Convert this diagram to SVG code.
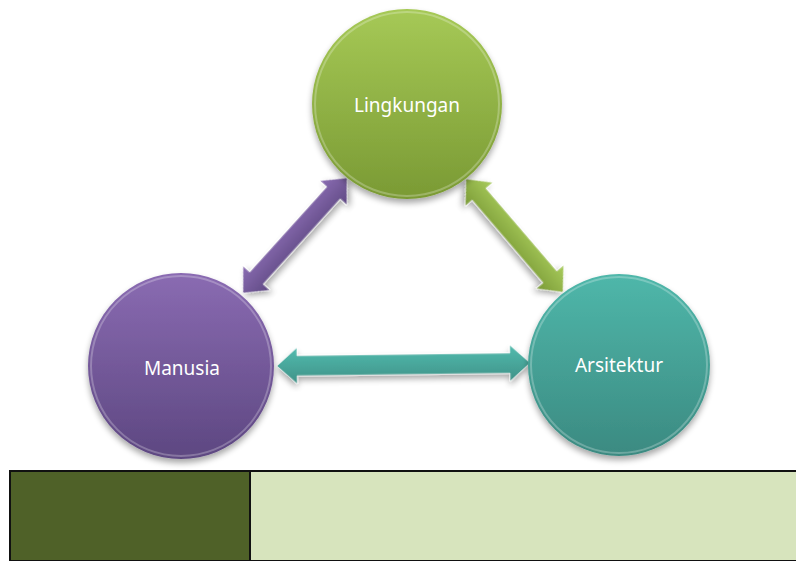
<svg xmlns="http://www.w3.org/2000/svg" width="796" height="561" viewBox="0 0 796 561">
<style>
.lbl{font-family:"Noto Sans","Open Sans",sans-serif;font-size:19px;fill:#ffffff;text-anchor:middle;dominant-baseline:central}
.rim{fill:none;stroke:#ffffff;stroke-opacity:0.25;stroke-width:2}
.cell{stroke:#111111;stroke-width:2}
</style>
<defs>
<linearGradient id="gG" x1="0" y1="0" x2="0" y2="1"><stop offset="0" stop-color="#a6c956"/><stop offset="1" stop-color="#7a9a34"/></linearGradient>
<linearGradient id="gP" x1="0" y1="0" x2="0" y2="1"><stop offset="0" stop-color="#8a6bb2"/><stop offset="1" stop-color="#5d4781"/></linearGradient>
<linearGradient id="gT" x1="0" y1="0" x2="0" y2="1"><stop offset="0" stop-color="#4fb7aa"/><stop offset="1" stop-color="#3b8a81"/></linearGradient>
<linearGradient id="aG" x1="0" y1="0" x2="0" y2="1"><stop offset="0" stop-color="#a9cc5c"/><stop offset="1" stop-color="#7a9a36"/></linearGradient>
<linearGradient id="aP" x1="0" y1="0" x2="0" y2="1"><stop offset="0" stop-color="#8b6db3"/><stop offset="1" stop-color="#5f4983"/></linearGradient>
<linearGradient id="aT" x1="0" y1="0" x2="0" y2="1"><stop offset="0" stop-color="#52bbae"/><stop offset="1" stop-color="#3f9288"/></linearGradient>
<filter id="sh" x="-20%" y="-20%" width="140%" height="140%"><feGaussianBlur in="SourceAlpha" stdDeviation="3"/><feOffset dx="0" dy="4"/><feComponentTransfer><feFuncA type="linear" slope="0.35"/></feComponentTransfer><feMerge><feMergeNode/><feMergeNode in="SourceGraphic"/></feMerge></filter>
</defs>
<rect width="796" height="561" fill="#ffffff"/>
<g id="connectors">
<polygon transform="translate(243,293) rotate(-47.9)" points="0,0 20,-18 20,-9 135,-9 135,-18 155,0 135,18 135,9 20,9 20,18" fill="url(#aP)" stroke="#ffffff" stroke-opacity="0.5" stroke-width="1" filter="url(#sh)"/>
<polygon transform="translate(466,179) rotate(49.4)" points="0,0 20,-18 20,-9 129,-9 129,-18 149,0 129,18 129,9 20,9 20,18" fill="url(#aG)" stroke="#ffffff" stroke-opacity="0.5" stroke-width="1" filter="url(#sh)"/>
<polygon transform="translate(277,366) rotate(-0.7)" points="0,0 20,-18 20,-10 233,-10 233,-18 253,0 233,18 233,10 20,10 20,18" fill="url(#aT)" stroke="#ffffff" stroke-opacity="0.5" stroke-width="1" filter="url(#sh)"/>
</g>
<g id="node-lingkungan">
<circle cx="407" cy="104" r="95" fill="url(#gG)" filter="url(#sh)"/>
<circle class="rim" cx="407" cy="104" r="92"/>
<text class="lbl" x="407" y="105">Lingkungan</text>
</g>
<g id="node-manusia">
<circle cx="181" cy="366" r="93" fill="url(#gP)" filter="url(#sh)"/>
<circle class="rim" cx="181" cy="366" r="90"/>
<text class="lbl" x="182" y="368">Manusia</text>
</g>
<g id="node-arsitektur">
<circle cx="619" cy="365" r="91" fill="url(#gT)" filter="url(#sh)"/>
<circle class="rim" cx="619" cy="365" r="88"/>
<text class="lbl" x="619" y="365">Arsitektur</text>
</g>
<g id="table">
<rect class="cell" x="10" y="471" width="240" height="90" fill="#4f6128"/>
<rect class="cell" x="250" y="471" width="547" height="90" fill="#d7e4bd"/>
</g>
</svg>
